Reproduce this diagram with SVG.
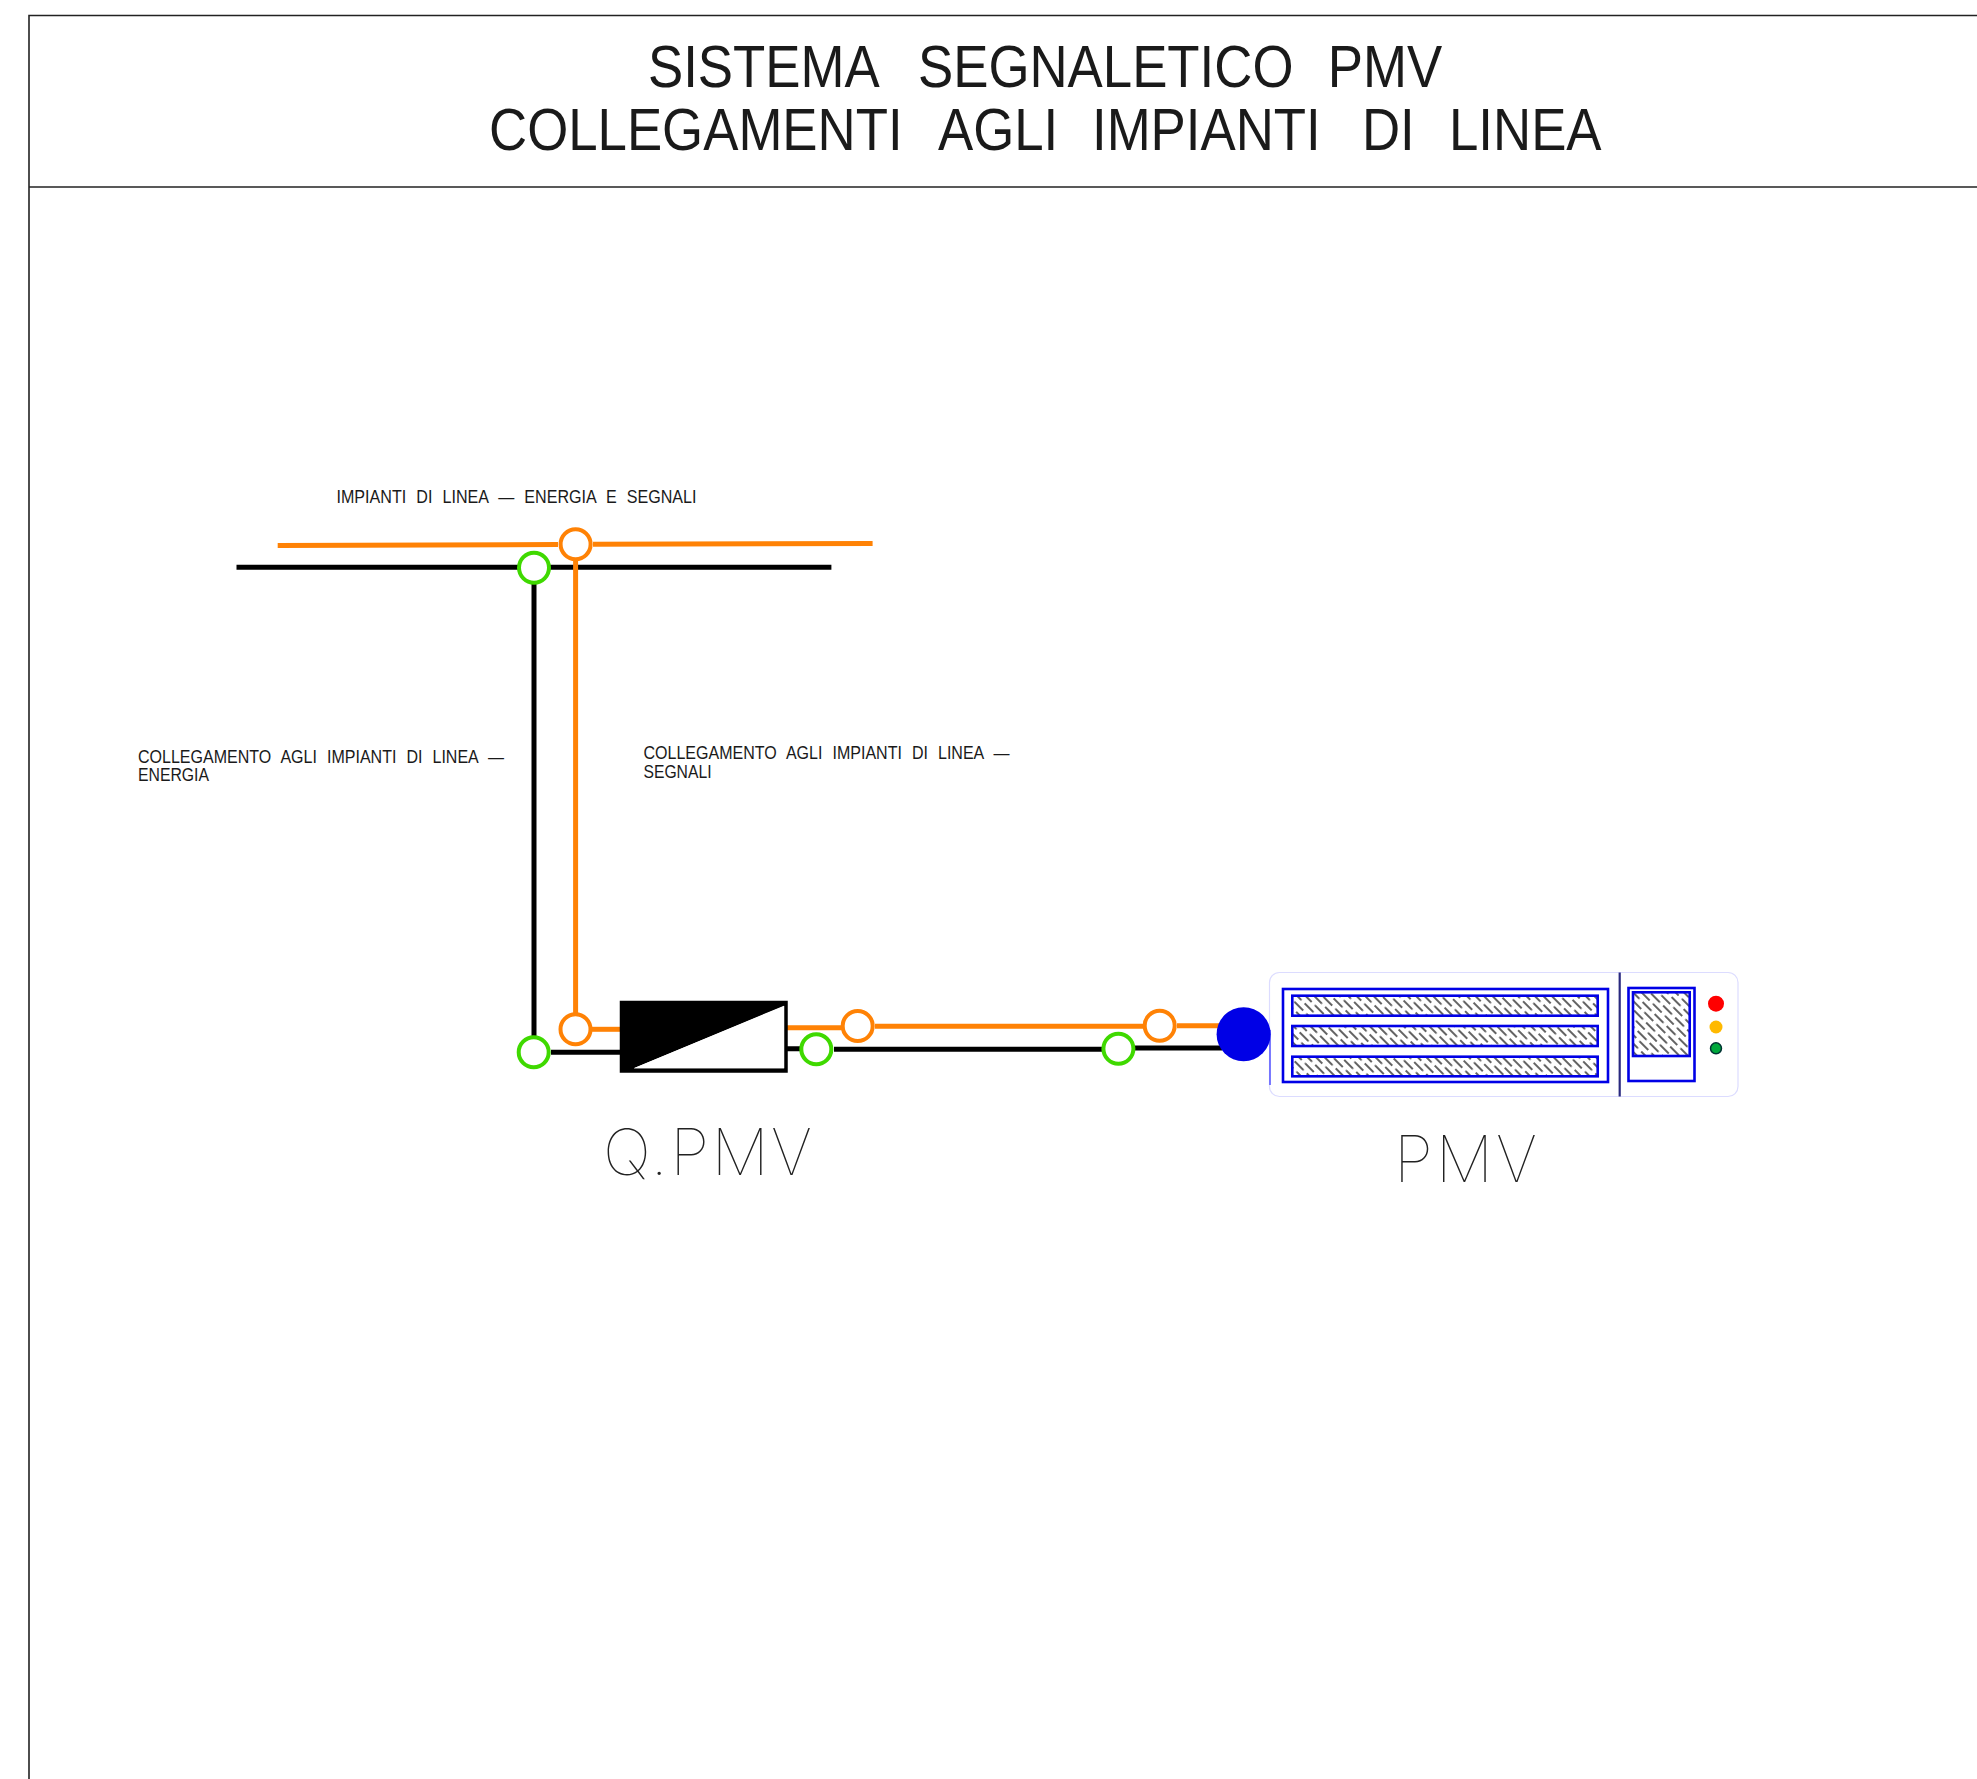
<svg xmlns="http://www.w3.org/2000/svg" width="1977" height="1779" viewBox="0 0 1977 1779">
<style>
.t{font-family:"Liberation Sans",Arial,sans-serif;fill:#1a1a1a;word-spacing:.35em}
.title{font-size:59px}
.small{font-size:17.5px}
.big{font-family:Inter,Roboto,"Liberation Sans",sans-serif;font-weight:100;font-size:64px;fill:#222}
.w{fill:none;stroke:#000;stroke-width:5}
.o{fill:none;stroke:#ff8205;stroke-width:5}
.gc{fill:#fff;stroke:#3fd900;stroke-width:4}
.oc{fill:#fff;stroke:#ff8205;stroke-width:4}
.bl{stroke:#0000e6;stroke-width:2.6}
.hatch{fill:url(#h);stroke:#0000e6;stroke-width:2.6}
</style>
<defs>
<pattern id="h" width="17" height="12" patternUnits="userSpaceOnUse" patternTransform="rotate(45)">
<rect width="17" height="12" fill="#fff"/>
<rect x="0" y="2.3" width="12.5" height="1.4" fill="#222"/>
<rect x="8.5" y="8.3" width="12.5" height="1.4" fill="#222"/>
<rect x="-8.5" y="8.3" width="12.5" height="1.4" fill="#222"/>
</pattern>
</defs>
<rect width="1977" height="1779" fill="#fff"/>
<g id="frame" fill="none" stroke="#222">
<path d="M1977 15.5H29V1779" stroke-width="1.6"/>
<path d="M29 187H1977" stroke-width="1.4"/>
</g>
<g id="title">
<text class="t title" transform="scale(.895 1)" y="87"><tspan x="724">SISTEMA</tspan> <tspan x="1025.7">SEGNALETICO</tspan> <tspan x="1483.5">PMV</tspan></text>
<text class="t title" transform="scale(.895 1)" y="150"><tspan x="546.4">COLLEGAMENTI</tspan> <tspan x="1048">AGLI</tspan> <tspan x="1220.1">IMPIANTI</tspan> <tspan x="1521.8">DI</tspan> <tspan x="1619">LINEA</tspan></text>
</g>
<g id="connectors">
<path class="o" d="M277.7 545.5L558 544.5M593 544.3L872.6 543.5"/>
<path class="w" d="M236.5 567.3H519M548.7 567.3H831.4"/>
<path class="w" d="M534 583V1037"/>
<path class="o" d="M575.6 561V1013"/>
<path class="w" d="M551 1052.3H622"/>
<path class="o" d="M592 1029.3H622"/>
<path class="o" d="M787 1027.7H842M875 1026.3H1143M1177 1025.7H1220"/>
<path class="w" d="M782 1048.7H801M834 1049.3H1103M1133 1048H1222"/>
</g>
<g id="line-labels">
<text class="t small" x="336.5" y="502.7" textLength="360" lengthAdjust="spacingAndGlyphs">IMPIANTI DI LINEA — ENERGIA E SEGNALI</text>
<text class="t small" x="138" y="762.7" textLength="366" lengthAdjust="spacingAndGlyphs">COLLEGAMENTO AGLI IMPIANTI DI LINEA —</text>
<text class="t small" x="138" y="781.3" textLength="71" lengthAdjust="spacingAndGlyphs">ENERGIA</text>
<text class="t small" x="643.5" y="759" textLength="366" lengthAdjust="spacingAndGlyphs">COLLEGAMENTO AGLI IMPIANTI DI LINEA —</text>
<text class="t small" x="643.5" y="778" textLength="68" lengthAdjust="spacingAndGlyphs">SEGNALI</text>
</g>
<g id="junctions">
<circle class="oc" cx="575.6" cy="544.3" r="15"/>
<circle class="gc" cx="534" cy="567.7" r="15"/>
<circle class="gc" cx="533.7" cy="1052.3" r="15"/>
<circle class="oc" cx="575.5" cy="1029.3" r="15"/>
<circle class="oc" cx="857.7" cy="1026" r="15"/>
<circle class="oc" cx="1159.7" cy="1025.7" r="15"/>
<circle class="gc" cx="816.3" cy="1049.3" r="15"/>
<circle class="gc" cx="1118.4" cy="1048.7" r="15"/>
</g>
<g id="q-pmv">
<rect x="621.5" y="1002.5" width="164.5" height="68.5" fill="#fff" stroke="#000" stroke-width="3.5"/>
<path d="M621 1002H785L785 1005.7L633.7 1068.3H785V1071H621Z" fill="#000"/>
<path d="M784 1005.7V1068.3H633.7Z" fill="#fff"/>
<text class="big" x="603" y="1175" textLength="209" lengthAdjust="spacing">Q.PMV</text>
</g>
<g id="pmv">
<rect x="1269.5" y="972.5" width="468.5" height="124" rx="10" fill="#fff" stroke="#dcdcff" stroke-width="1.2"/>
<path d="M1270 1030V1085" stroke="#5a5aff" stroke-width="1.6"/>
<path d="M1619.7 972.5V1096.5" stroke="#2a2a80" stroke-width="2.2"/>
<rect class="bl" x="1283" y="989" width="325" height="93" fill="#fff"/>
<rect class="hatch" x="1292.3" y="995.7" width="305.4" height="20"/>
<rect class="hatch" x="1292.3" y="1026" width="305.4" height="20"/>
<rect class="hatch" x="1292.3" y="1056.7" width="305.4" height="19.6"/>
<rect class="bl" x="1628.5" y="988" width="66" height="93" fill="#fff"/>
<rect class="hatch" x="1633" y="992.3" width="56.7" height="63.7"/>
<circle cx="1716" cy="1003.7" r="8" fill="#f00"/>
<circle cx="1716" cy="1027" r="6.5" fill="#ffb900"/>
<circle cx="1716" cy="1048.3" r="5.5" fill="#00a83c" stroke="#033" stroke-width="1.5"/>
<text class="big" x="1394" y="1182" textLength="143" lengthAdjust="spacing">PMV</text>
</g>
<circle id="pmv-terminal" cx="1243.6" cy="1034.2" r="27" fill="#0000e6"/>
</svg>
